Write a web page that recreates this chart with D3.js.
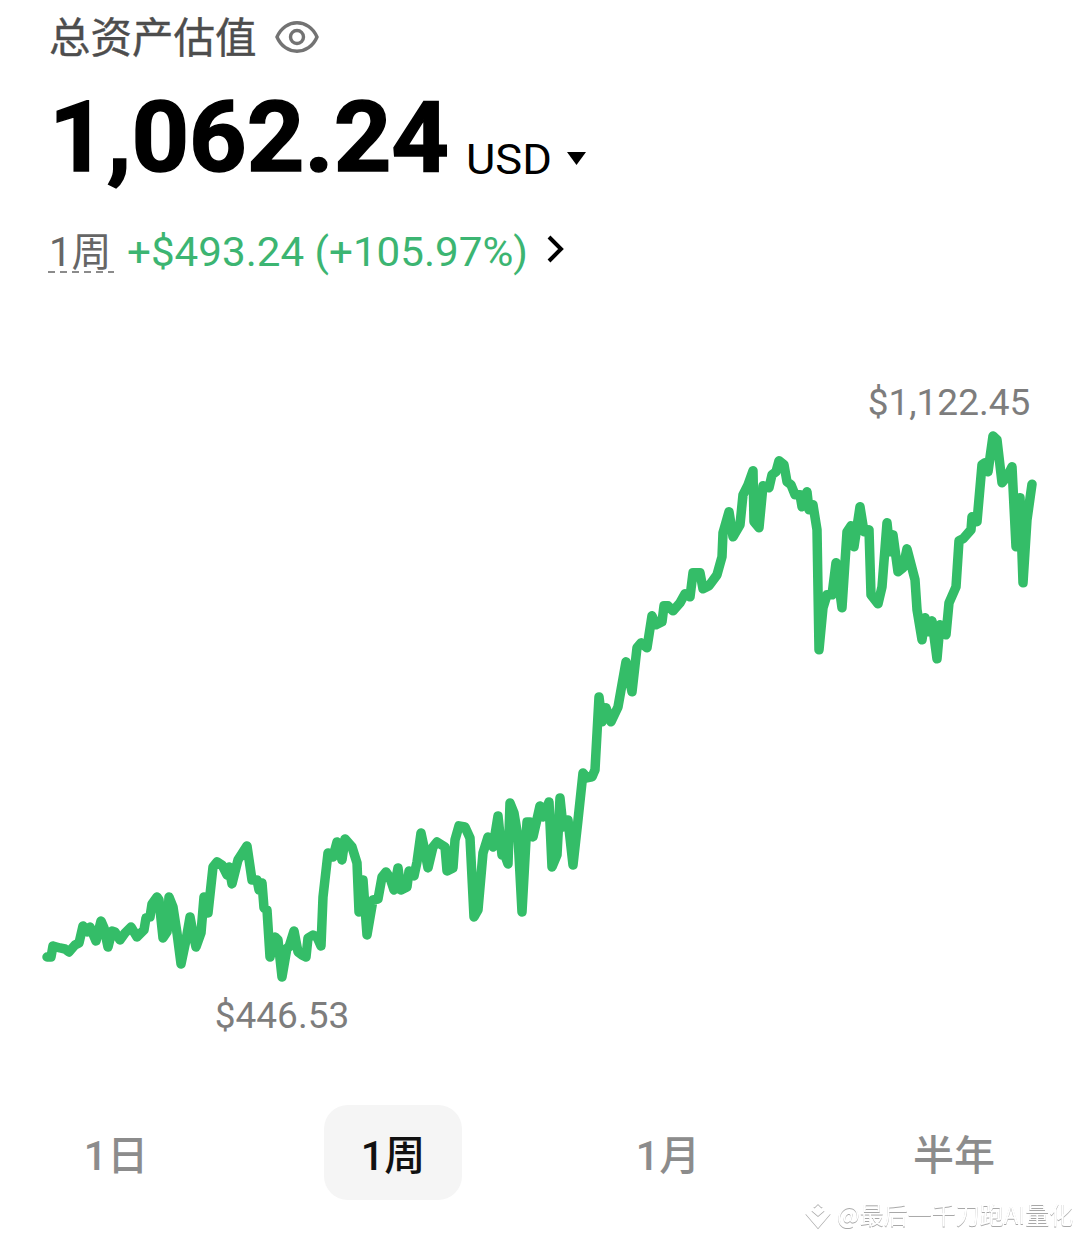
<!DOCTYPE html>
<html>
<head>
<meta charset="utf-8">
<style>
  html, body { margin: 0; padding: 0; background: #fff; }
  svg { display: block; }
  text { font-family: Roboto, "Noto Sans CJK SC", sans-serif; }
  .cjk { font-family: "Noto Sans CJK SC", sans-serif; }
</style>
<script src="https://cdn.jsdelivr.net/npm/d3@7"></script>
</head>
<body>
<div id="chart"></div>
<script>
const sampleTimes = [
  0,4,6,13,18,22,28,32,36,40,43,49,54,57,61,65,68,73,78,84,90,97,99,103,105,110,112,116,120,122,
  126,130,134,139,143,146,149,154,157,161,166,170,175,180,182,185,191,200,205,210,212,215,217,220,223,228,231,235,240,242,
  247,251,255,259,261,266,270,274,276,281,286,290,295,298,305,310,312,316,320,326,331,335,339,343,347,351,354,360,362,367,
  370,374,377,381,386,390,398,400,406,408,412,418,423,427,431,436,441,446,451,455,457,461,463,467,471,475,480,483,486,493,
  496,502,505,510,513,516,521,526,531,536,540,545,548,552,555,559,564,571,579,585,590,594,600,605,609,615,617,621,626,633,
  638,643,646,653,656,662,670,675,676,682,686,693,696,701,706,707,712,716,722,725,729,732,737,740,744,748,753,755,760,762,
  766,770,772,776,780,785,789,795,800,804,807,813,817,822,824,831,835,840,843,846,851,856,860,868,870,875,878,881,885,890,
  893,899,902,909,912,916,924,925,930,935,938,941,946,950,955,960,965,969,973,976,980,985
];
const balances = [
  471.5,471.5,485.3,482.8,481.5,477.8,486.5,489,510.3,502.8,509,491.5,516.5,507.8,484,504,502.8,492.8,501.5,509,496.5,505.3,520.3,521.5,537.8,546.5,542.8,495.3,502.8,546.5,
  534,501.5,462.8,492.8,521.5,501.5,484,501.5,546.5,526.5,584,590.3,586.5,574,584,562.8,592.8,610.3,567.8,567.8,555.3,564,532.8,530.3,471.5,496.5,492.8,446.53,482.8,484,
  504,477.8,474,471.5,495.3,499,496.5,485.3,546.5,601.5,596.5,615.3,592.8,619,609,589,527.8,567.8,499,542.8,544,571.5,577.8,570.3,555.3,582.8,555.3,559,579,572.8,
  590.3,626.5,609,582.8,609,615.3,609,579,582.8,617.8,635.3,634,620.3,521.5,530.3,601.5,621.5,609,647.8,599,601.5,587.8,664,651.5,621.5,527.8,640.3,640.3,621.5,660.3,
  646.5,665.3,584,599,670.3,634,642.8,586.5,642.8,701.5,695.3,696.5,705.3,796.5,765.3,782.8,765.3,784,840.3,802.8,857.8,864,857.8,897.8,886.5,890.3,910.3,910.3,904,914,
  925.3,921.5,951.5,951.5,931.5,935.3,949,971.5,1001.5,1027.8,996.5,1011.5,1049,1061.5,1079,1015.3,1007.8,1060.3,1057.8,1074,1077.8,1091.5,1086.5,1065.3,1061.5,1049,1049,1034,1052.8,1030.3,
  1036.5,1005.3,855.3,907.8,924,924,964,907.8,1002.8,1010.3,984,1034,1002.8,1005.3,924,912.8,934,1014,977.8,999,952.8,957.8,981.5,942.8,905.3,867.8,895.3,877.8,891.5,844,
  886.5,874,914,934,991.5,994,1005.3,1021.5,1015.3,1086.5,1089,1077.8,1122.45,1117.8,1064,1071.5,1084,984,1045.3,939,1017.8,1062.24
];
const tabLabels = ['1日', '1周', '1月', '半年'];
const activeTab = '1周';

const width = 1080, height = 1238;
const green = '#34bd68';

const svg = d3.select('#chart').append('svg')
  .attr('width', width)
  .attr('height', height);

const x = d3.scaleLinear().domain([0, 985]).range([47, 1032]);
const y = d3.scaleLinear().domain([446.53, 1122.45]).range([977, 436]);

const money = v => '$' + d3.format(',.2f')(v);

// header
svg.append('text')
  .attr('class', 'cjk')
  .attr('x', 49).attr('y', 53)
  .attr('font-size', 41.5)
  .attr('fill', '#4d4d4d')
  .attr('stroke', '#4d4d4d')
  .attr('stroke-width', 0.4)
  .text('总资产估值');

let eye = svg.append('g')
  .attr('transform', 'translate(297,37)')
  .attr('fill', 'none')
  .attr('stroke', '#737373')
  .attr('stroke-width', 3.4);
eye.append('path').attr('d', 'M-20,0 C-12,-19 12,-19 20,0 C12,19 -12,19 -20,0 Z');
eye.append('circle').attr('r', 6.5);

svg.append('text')
  .attr('x', 49).attr('y', 171)
  .attr('font-size', 98)
  .attr('font-weight', 700)
  .attr('fill', '#000')
  .attr('stroke', '#000')
  .attr('stroke-width', 1.5)
  .attr('textLength', 400)
  .attr('lengthAdjust', 'spacingAndGlyphs')
  .text('1,062.24');

svg.append('text')
  .attr('x', 466).attr('y', 174)
  .attr('font-size', 42)
  .attr('fill', '#000')
  .attr('textLength', 86)
  .attr('lengthAdjust', 'spacingAndGlyphs')
  .text('USD');

svg.append('path')
  .attr('d', d3.line()([[567, 152], [586, 152], [576.5, 165]]) + 'Z')
  .attr('fill', '#000');

svg.append('text')
  .attr('x', 49).attr('y', 266)
  .attr('font-size', 40)
  .attr('fill', '#666')
  .text('1周');

svg.append('line')
  .attr('x1', 48).attr('x2', 114)
  .attr('y1', 272).attr('y2', 272)
  .attr('stroke', '#666')
  .attr('stroke-width', 1.5)
  .attr('stroke-dasharray', '7 5');

svg.append('text')
  .attr('x', 127).attr('y', 266)
  .attr('font-size', 40)
  .attr('fill', '#3cb572')
  .attr('textLength', 401)
  .attr('lengthAdjust', 'spacingAndGlyphs')
  .text('+$493.24 (+105.97%)');

svg.append('path')
  .attr('d', 'M549,237 L561,249 L549,261')
  .attr('fill', 'none')
  .attr('stroke', '#000')
  .attr('stroke-width', 4);

// price line
const line = d3.line()
  .x((d, i) => x(sampleTimes[i]))
  .y(d => y(d));

svg.append('path')
  .datum(balances)
  .attr('d', line)
  .attr('fill', 'none')
  .attr('stroke', green)
  .attr('stroke-width', 9.5)
  .attr('stroke-linejoin', 'round')
  .attr('stroke-linecap', 'round');

// high / low labels
const hi = d3.max(balances), lo = d3.min(balances);

svg.append('text')
  .attr('x', 949).attr('y', y(hi) - 21)
  .attr('text-anchor', 'middle')
  .attr('font-size', 37)
  .attr('fill', '#7d7d7d')
  .text(money(hi));

svg.append('text')
  .attr('x', x(sampleTimes[balances.indexOf(lo)])).attr('y', y(lo) + 51)
  .attr('text-anchor', 'middle')
  .attr('font-size', 37)
  .attr('fill', '#7d7d7d')
  .text(money(lo));

// range tabs
const tabCentre = { '1日': 116, '1周': 393, '1月': 668, '半年': 954 };

svg.append('rect')
  .attr('x', tabCentre[activeTab] - 69).attr('y', 1105)
  .attr('width', 138).attr('height', 95)
  .attr('rx', 24)
  .attr('fill', '#f5f5f5');

svg.selectAll('text.tab')
  .data(tabLabels)
  .join('text')
  .attr('class', 'tab')
  .attr('x', d => tabCentre[d])
  .attr('y', 1170)
  .attr('text-anchor', 'middle')
  .attr('font-size', 41)
  .attr('font-weight', 500)
  .attr('fill', d => d === activeTab ? '#111' : '#8c8c8c')
  .text(d => d);

// watermark
let mark = svg.append('g')
  .style('filter', 'drop-shadow(0 1px 0.5px #a8a8a8)');

mark.append('path')
  .attr('d', 'M806,1213 L818,1227 L830,1213 M812,1210 L818,1215 L824,1210 M818,1203 L822,1207 M818,1203 L814,1207')
  .attr('fill', 'none')
  .attr('stroke', '#fff')
  .attr('stroke-width', 1.6);

mark.append('text')
  .attr('class', 'cjk')
  .attr('x', 837).attr('y', 1224)
  .attr('font-size', 24)
  .attr('fill', '#fff')
  .text('@最后一千刀跑AI量化');
</script>
</body>
</html>
